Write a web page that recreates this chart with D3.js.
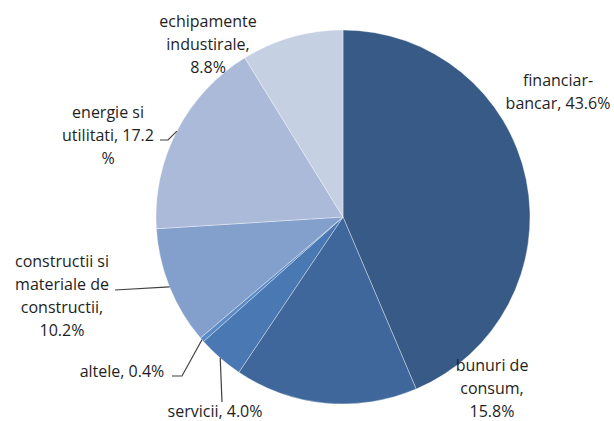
<!DOCTYPE html>
<html><head><meta charset="utf-8">
<script src="https://cdn.jsdelivr.net/npm/d3@7"></script>
<style>
html,body{margin:0;padding:0;background:#fff;}
text{font-family:"Open Sans",Lato,sans-serif;font-size:16px;fill:#1e1e1e;}
</style></head>
<body><svg id="c" width="614" height="421"></svg>
<script>
const categories = ["financiar-bancar","bunuri de consum","servicii","altele","constructii si materiale de constructii","energie si utilitati","echipamente industirale"];
const values = [43.6, 15.8, 4.0, 0.4, 10.2, 17.2, 8.8];
const labelLines = [
  ["financiar-","bancar, 43.6%"],
  ["bunuri de","consum,","15.8%"],
  ["servicii, 4.0%"],
  ["altele, 0.4%"],
  ["constructii si","materiale de","constructii,","10.2%"],
  ["energie si","utilitati, 17.2","%"],
  ["echipamente","industirale,","8.8%"]
];
const colors = ["#375b86","#3f679b","#4a78b3","#5a8bc7","#839fcb","#abbad9","#c5d0e3"];

// layout (label block centres relative to pie centre, leader bend/end offsets)
const cx = 343, cy = 217, R = 187, lh = 23.3;
const labelPos = [
  {x:215, y:-124.5, leader:null},
  {x:149, y:172, leader:null},
  {x:-128, y:195, leader:[[-121,185]]},
  {x:-221, y:155, leader:[[-161,159],[-171,159]]},
  {x:-281, y:79.5, leader:[[-228,73]]},
  {x:-235, y:-81, leader:[[-175,-77],[-183,-77]]},
  {x:-135, y:-172, leader:null}
];

const svg = d3.select("#c");
const g = svg.append("g").attr("transform",`translate(${cx},${cy})`);
const pie = d3.pie().sort(null).value(d=>d);
const arcs = pie(values);
const arc = d3.arc().innerRadius(0).outerRadius(R);

g.selectAll("path.s").data(arcs).enter().append("path")
  .attr("class","s").attr("d",arc)
  .attr("fill",(d,i)=>colors[i])
  .attr("stroke","#ffffff").attr("stroke-opacity",0.5).attr("stroke-width",0.7);

arcs.forEach((d,i)=>{
  const lp = labelPos[i];
  if(lp.leader){
    const mid = (d.startAngle+d.endAngle)/2;
    const p0 = [R*Math.sin(mid), -R*Math.cos(mid)];
    const pts = [p0].concat(lp.leader);
    g.append("path").attr("d", d3.line()(pts))
      .attr("fill","none").attr("stroke","#404040").attr("stroke-width",1.2);
  }
  const t = g.append("text").attr("text-anchor","middle");
  const lines = labelLines[i];
  const y0 = lp.y - (lines.length-1)*lh/2;
  lines.forEach((s,k)=>{
    t.append("tspan").attr("x",lp.x).attr("y",y0+k*lh+5).text(s);
  });
});
</script></body></html>
